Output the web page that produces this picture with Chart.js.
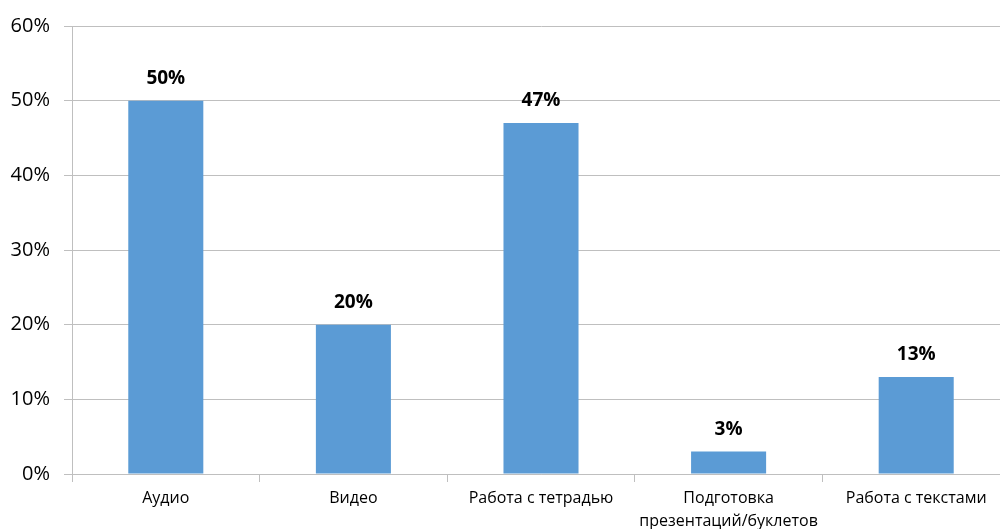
<!DOCTYPE html>
<html>
<head>
<meta charset="utf-8">
<script src="https://cdn.jsdelivr.net/npm/chart.js@4"></script>
<style>
html, body { margin: 0; padding: 0; background: #fff; overflow: hidden; }
#wrap { width: 1010px; height: 529px; }
</style>
</head>
<body>
<div id="wrap"><canvas id="myBarChart"></canvas></div>
<script>
var categories = ['Аудио', 'Видео', 'Работа с тетрадью', ['Подготовка', 'презентаций/буклетов'], 'Работа с текстами'];
var values = [50, 20, 47, 3, 13];
var yTicks = [0, 10, 20, 30, 40, 50, 60];

var gridColor = '#bfbfbf';

// подписи над столбцами
var valueLabels = {
    id: 'valueLabels',
    afterDatasetsDraw: function(chart){
        let c = chart.ctx;
        let meta = chart.getDatasetMeta(0);
        c.save();
        c.font = 'bold 19px "Open Sans"';
        c.fillStyle = '#000';
        c.textAlign = 'center';
        c.textBaseline = 'bottom';
        meta.data.forEach(function(bar, i){
            c.fillText(values[i] + '%', bar.x, bar.y - 13);
        });
        c.restore();
    }
};

var ctx = document.getElementById("myBarChart");
var myBarChart = new Chart(ctx, {
    type: 'bar',
    data: {
        labels: categories,
        datasets: [{
            data: values,
            backgroundColor: '#5b9bd5',
            borderWidth: 0,
            categoryPercentage: 1,
            barPercentage: 0.4
        }]
    },
    options: {
        responsive: true,
        maintainAspectRatio: false,
        animation: false,
        layout: { padding: { top: 14, right: 0, left: 0, bottom: 0 } },
        plugins: {
            legend: { display: false },
            tooltip: { enabled: false }
        },
        scales: {
            x: {
                grid: {
                    offset: true,
                    drawOnChartArea: false,
                    drawTicks: true,
                    tickLength: 8,
                    color: gridColor
                },
                border: { color: gridColor },
                ticks: {
                    color: '#000',
                    font: { family: '"Open Sans"', size: 16, lineHeight: 1.45 },
                    padding: 5,
                    maxRotation: 0,
                    autoSkip: false
                },
                afterFit: function(scale){ scale.height = 55; }
            },
            y: {
                min: 0,
                max: 60,
                afterBuildTicks: function(scale){
                    scale.ticks = yTicks.map(function(v){ return { value: v }; });
                },
                grid: {
                    color: gridColor,
                    tickLength: 8
                },
                border: { color: gridColor },
                ticks: {
                    color: '#000',
                    font: { family: '"Open Sans"', size: 20 },
                    padding: 14,
                    callback: function(val){ return val + '%'; }
                },
                afterFit: function(scale){ scale.width = 72; }
            }
        }
    },
    plugins: [valueLabels]
});
</script>
</body>
</html>
